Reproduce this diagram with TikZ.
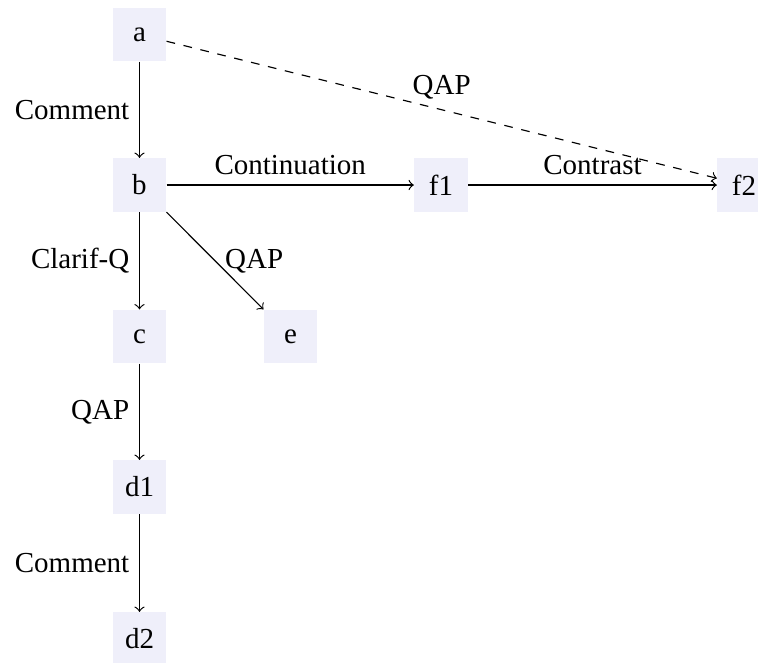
\documentclass[tikz,border=0pt]{standalone}
\usepackage{fontspec}
\setmainfont{Liberation Serif}
\definecolor{nodefill}{RGB}{239,239,250}
\begin{document}
\begin{tikzpicture}[x=0.34483pt,y=-0.34483pt,
  box/.style={fill=nodefill, minimum size=18.3pt, inner sep=0pt},
  edge/.style={->, line width=0.4pt}]
\useasboundingbox (0,0) rectangle (758,662);
\node[box] (a) at (139.5,34.5) {a};
\node[box] (b) at (139.5,185) {b};
\node[box] (c) at (139.5,336.5) {c};
\node[box] (d1) at (139.5,487) {d1};
\node[box] (d2) at (139.5,639) {d2};
\node[box] (e) at (290.5,336.5) {e};
\node[box] (f1) at (441,185) {f1};
\node[box] (f2) at (744,185) {f2};
\draw[edge] (a) -- node[left] {Comment} (b);
\draw[edge] (b) -- node[left] {Clarif-Q} (c);
\draw[edge] (c) -- node[left] {QAP} (d1);
\draw[edge] (d1) -- node[left] {Comment} (d2);
\draw[edge] (b) -- node[right] {QAP} (e);
\draw[edge] (b) -- node[above] {Continuation} (f1);
\draw[edge] (f1) -- node[above] {Contrast} (f2);
\draw[edge, dashed] (a) -- node[above] {QAP} (f2);
\end{tikzpicture}
\end{document}
